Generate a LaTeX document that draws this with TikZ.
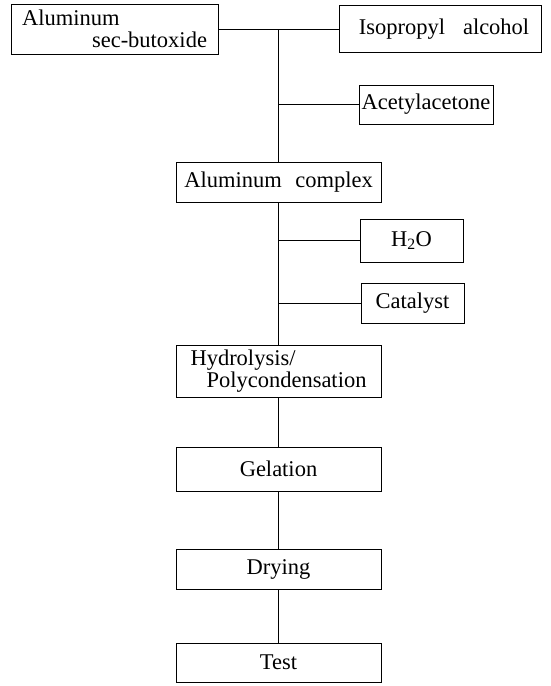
\documentclass[tikz,border=0pt]{standalone}
\usepackage{fontspec}
\setmainfont{Liberation Serif}
\begin{document}
\begin{tikzpicture}[x=1pt,y=-1pt,
  every node/.style={font=\fontsize{22.5}{22}\selectfont},
  procbox/.style={draw, line width=0.9pt, rectangle, inner sep=0pt, align=left},
  conn/.style={line width=0.9pt}]
\useasboundingbox (0,0) rectangle (551,686);
\node[procbox, minimum width=207pt, minimum height=50pt] (alu) at (114.5,29) {Aluminum\\\hspace*{70pt}sec-butoxide};
\node[procbox, minimum width=202pt, minimum height=47pt] (iso) at (440,29) {\hspace*{8pt}Isopropyl\hspace{0.8em}alcohol};
\node[procbox, minimum width=134pt, minimum height=39pt] (acac) at (426,104.5) {Acetylacetone};
\node[procbox, minimum width=205pt, minimum height=40pt] (cplx) at (278.5,182) {Aluminum\hspace{0.6em}complex};
\node[procbox, minimum width=103pt, minimum height=43pt] (h2o) at (411.5,240.5) {H\textsubscript{2}O};
\node[procbox, minimum width=103pt, minimum height=40pt] (cat) at (412.5,303) {Catalyst};
\node[procbox, minimum width=205pt, minimum height=52pt] (hyd) at (278.5,371) {Hydrolysis/\\\hspace*{16pt}Polycondensation};
\node[procbox, minimum width=205pt, minimum height=44pt] (gel) at (278.5,469) {Gelation};
\node[procbox, minimum width=205pt, minimum height=40pt] (dry) at (278.5,569) {Drying};
\node[procbox, minimum width=205pt, minimum height=39pt] (test) at (278.5,662.5) {Test};
\coordinate (j1) at (278,29);
\draw[conn] (alu.east) -- (iso.west);
\draw[conn] (j1) -- (j1 |- cplx.north);
\draw[conn] (acac.west -| j1) -- (acac.west);
\draw[conn] (cplx.south) -- (hyd.north);
\draw[conn] (h2o.west -| cplx.south) -- (h2o.west);
\draw[conn] (cat.west -| cplx.south) -- (cat.west);
\draw[conn] (hyd.south) -- (gel.north);
\draw[conn] (gel.south) -- (dry.north);
\draw[conn] (dry.south) -- (test.north);
\end{tikzpicture}
\end{document}
